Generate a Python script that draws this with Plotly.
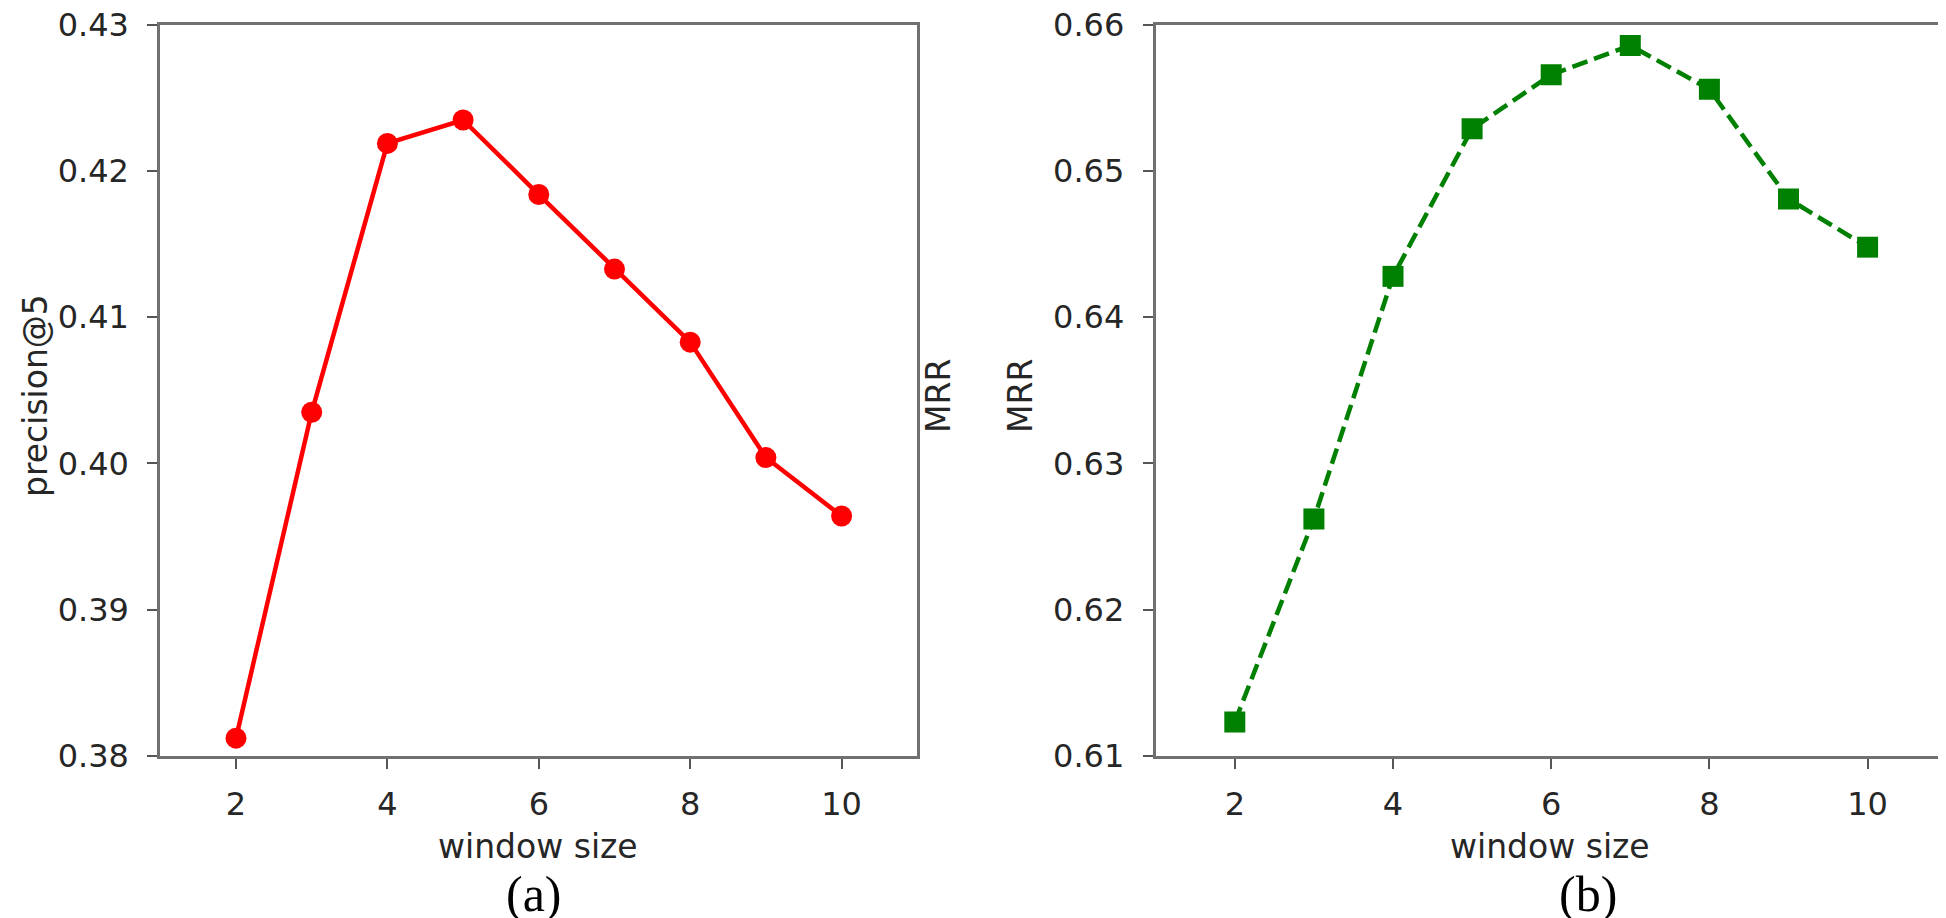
import plotly.graph_objects as go

window_size = [2, 3, 4, 5, 6, 7, 8, 9, 10]
precision_at_5 = [0.3812, 0.4035, 0.4219, 0.4235, 0.4184, 0.4133, 0.4083, 0.4004, 0.3964]
mrr = [0.6123, 0.6262, 0.6428, 0.6529, 0.6566, 0.6586, 0.6556, 0.6481, 0.6448]
x_ticks = [2, 4, 6, 8, 10]
p_ticks = [0.38, 0.39, 0.40, 0.41, 0.42, 0.43]
m_ticks = [0.61, 0.62, 0.63, 0.64, 0.65, 0.66]

W, H = 1946, 918
TXT = "#262626"
SPINE = "#707070"
FONT = "DejaVu Sans"
EPS = 1e-6

fig = go.Figure()
fig.add_trace(go.Scatter(
    x=window_size, y=precision_at_5, mode="lines+markers",
    line=dict(color="#ff0000", width=4.5),
    marker=dict(symbol="circle", size=21, color="#ff0000"),
    xaxis="x", yaxis="y", showlegend=False))
fig.add_trace(go.Scatter(
    x=window_size, y=mrr, mode="lines+markers",
    line=dict(color="#008000", width=4.5, dash="16px,7px"),
    marker=dict(symbol="square", size=21, color="#008000"),
    xaxis="x2", yaxis="y2", showlegend=False))

ydom = [1 - 747.7 / H, 1 - 17 / H]
common_axis = dict(
    showline=True, mirror=True, linecolor=SPINE, linewidth=3,
    ticks="outside", ticklen=10, tickwidth=2, tickcolor="#555555",
    showgrid=False, zeroline=False, automargin=False,
    ticklabeloverflow="allow",
    tickfont=dict(family=FONT, size=32, color=TXT),
)
xaxis_extra = dict(ticklabelstandoff=8)
yaxis_extra = dict(ticklabelstandoff=12)

fig.update_layout(
    width=W, height=H, autosize=False,
    margin=dict(l=0, r=0, t=0, b=0, pad=0),
    paper_bgcolor="white", plot_bgcolor="white",
    xaxis=dict(domain=[152.3 / W, 909.3 / W], range=[1, 11], tickvals=x_ticks,
               anchor="y", **common_axis, **xaxis_extra),
    yaxis=dict(domain=ydom, range=[0.38 - EPS, 0.43 + EPS], tickvals=p_ticks,
               tickformat=".2f", anchor="x", **common_axis, **yaxis_extra),
    xaxis2=dict(domain=[1147.7 / W, 1938.7 / W], range=[1, 11], tickvals=x_ticks,
                anchor="y2", **common_axis, **xaxis_extra),
    yaxis2=dict(domain=ydom, range=[0.61 - EPS, 0.66 + EPS], tickvals=m_ticks,
                tickformat=".2f", anchor="x2", **common_axis, **yaxis_extra),
)


def ann(text, x, y, size=33, angle=0, family=FONT, color=TXT):
    fig.add_annotation(text=text, x=x / W, y=1 - y / H, xref="paper", yref="paper",
                       showarrow=False, textangle=angle,
                       font=dict(family=family, size=size, color=color),
                       xanchor="center", yanchor="middle")


ann("window size", 530, 838)
ann("window size", 1542, 838)
ann("precision@5", 27, 388, angle=-90)
ann("MRR", 930, 388, angle=-90)
ann("MRR", 1012, 388, angle=-90)
ann("(a)", 526, 886, size=50, family="Liberation Serif", color="black")
ann("(b)", 1580, 886, size=50, family="Liberation Serif", color="black")

fig.write_html("out.html")
